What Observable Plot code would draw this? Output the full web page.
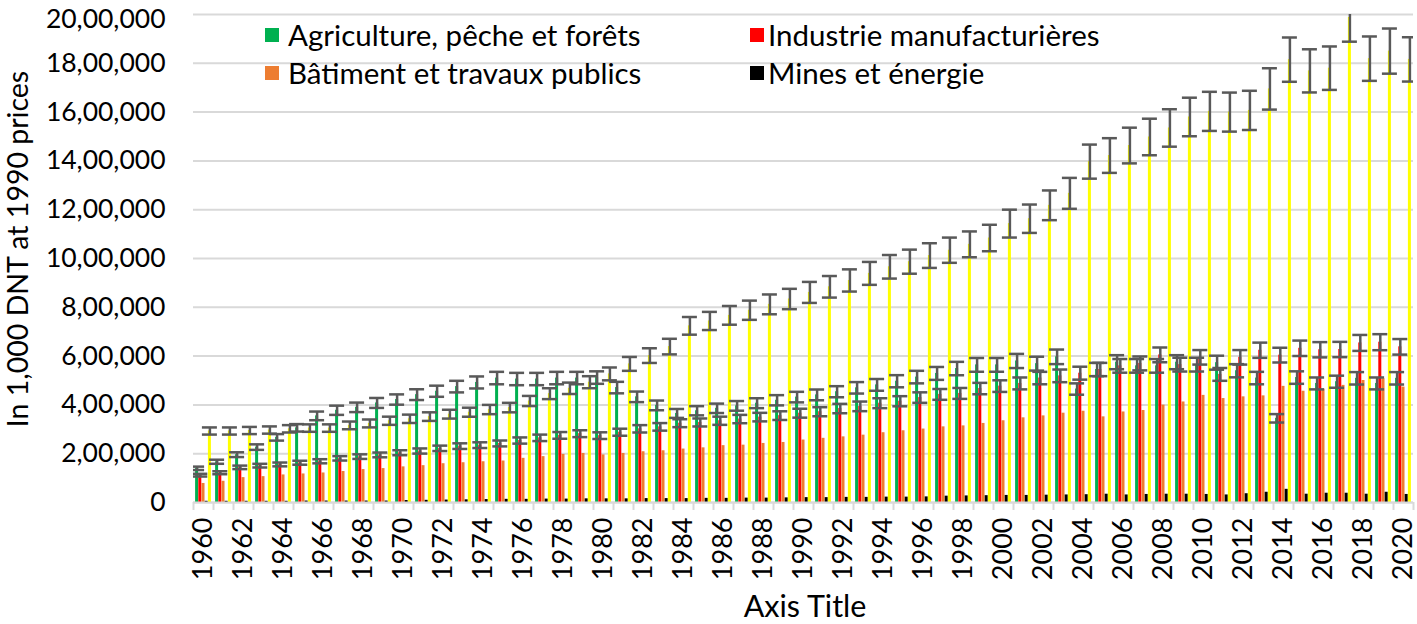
<!DOCTYPE html>
<html>
<head>
<meta charset="utf-8">
<script src="https://cdn.jsdelivr.net/npm/d3@7"></script>
<script src="https://cdn.jsdelivr.net/npm/@observablehq/plot@0.6"></script>
<style>
  body { margin: 0; background: #fff; }
  #wrap { position: relative; width: 1417px; height: 624px; font-family: Lato, "Open Sans", sans-serif; color: #000; }
  .lg { position: absolute; font-size: 29.5px; line-height: 32px; white-space: nowrap; }
  .sw { position: absolute; width: 14px; height: 14px; }
  .ytitle { position: absolute; left: 17px; top: 249px; transform: translate(-50%, -50%) rotate(-90deg); font-size: 28.5px; white-space: nowrap; }
  .xtitle { position: absolute; left: 805px; top: 605px; transform: translate(-50%, -50%); font-size: 30.5px; white-space: nowrap; }
</style>
</head>
<body>
<div id="wrap"></div>
<script>
// ---- categories ----
const years = [1960,1961,1962,1963,1964,1965,1966,1967,1968,1969,1970,1971,1972,1973,1974,1975,1976,1977,1978,1979,
  1980,1981,1982,1983,1984,1985,1986,1987,1988,1989,1990,1991,1992,1993,1994,1995,1996,1997,1998,1999,
  2000,2001,2002,2003,2004,2005,2006,2007,2008,2009,2010,2011,2012,2013,2014,2015,2016,2017,2018,2019,2020];
const xTickYears = [1960,1962,1964,1966,1968,1970,1972,1974,1976,1978,1980,1982,1984,1986,1988,1990,1992,1994,1996,1998,
  2000,2002,2004,2006,2008,2010,2012,2014,2016,2018,2020];

// ---- series values (in 1,000 DNT at 1990 prices) ----
const agriculture = [140000,167000,196000,227000,267000,306000,355000,378000,390000,408000,
  422000,442000,456000,475000,492000,510000,506000,506000,510000,510000,
  512000,471000,433000,398000,365000,376000,386000,396000,407000,419000,
  432000,441000,454000,470000,482000,497000,514000,529000,549000,564000,
  564000,580000,569000,597000,465000,545000,575000,560000,560000,575000,
  565000,573000,540000,510000,345000,512000,488000,495000,509000,488000,509000];
const industrie = [112000,122000,144000,151000,156000,163000,169000,181000,188000,195000,
  204000,211000,222000,231000,235000,242000,254000,265000,275000,282000,
  274000,288000,302000,310000,325000,328000,335000,342000,350000,356000,
  366000,372000,385000,394000,407000,415000,430000,443000,447000,467000,
  477000,488000,510000,519000,530000,545000,560000,570000,605000,565000,
  595000,525000,595000,624000,604000,632000,626000,627000,654000,657000,638000];
const batiment = [78000,87000,102000,106000,113000,117000,121000,127000,135000,139000,
  146000,151000,159000,163000,167000,170000,181000,188000,197000,201000,
  195000,201000,208000,212000,219000,224000,233000,235000,242000,246000,
  256000,263000,269000,276000,286000,294000,301000,310000,314000,324000,
  335000,347000,355000,366000,374000,351000,371000,377000,399000,412000,
  439000,426000,433000,437000,476000,456000,464000,480000,500000,507000,473000];
const mines = [5000,5000,5000,5000,5000,6000,6000,6000,6000,6000,
  8000,9000,10000,11000,12000,13000,13000,14000,14000,15000,
  15000,15000,16000,16000,16000,17000,17000,18000,18000,19000,
  20000,20000,21000,21000,22000,22000,23000,26000,27000,28000,
  29000,29000,30000,31000,32000,34000,31000,33000,34000,34000,
  33000,31000,36000,42000,54000,34000,38000,38000,34000,42000,33000];
const services = [293000,293000,295000,297000,302000,305000,305000,316000,324000,335000,
  343000,352000,362000,370000,381000,389000,416000,446000,468000,493000,
  527000,568000,602000,639000,724000,744000,767000,788000,812000,834000,
  861000,884000,910000,939000,966000,987000,1012000,1034000,1058000,1084000,
  1143000,1163000,1218000,1267000,1397000,1422000,1463000,1498000,1535000,1580000,
  1603000,1600000,1607000,1695000,1815000,1769000,1780000,1988000,1819000,1850000,1816000];

// ---- series metadata ----
const seriesNames = ["Agriculture, pêche et forêts", "Industrie manufacturières", "Bâtiment et travaux publics", "Mines et énergie", "Services"];
const seriesColors = ["#00B050", "#FF0000", "#ED7D31", "#000000", "#FFFF00"];
const seriesValues = [agriculture, industrie, batiment, mines, services];
const seriesHasError = [true, true, false, false, true];
const errorPercent = 0.05; // Excel percentage error bars
const legendItems = [0, 1, 2, 3];

// ---- y axis ----
const yTicks = [0,200000,400000,600000,800000,1000000,1200000,1400000,1600000,1800000,2000000];
const yTickLabels = ["0","2,00,000","4,00,000","6,00,000","8,00,000","10,00,000","12,00,000","14,00,000","16,00,000","18,00,000","20,00,000"];
const yTitle = "In 1,000 DNT at 1990 prices";
const xTitle = "Axis Title";

// ---- table ----
const rows = seriesValues.map((vals, s) => years.map((y, i) => ({year: y, series: seriesNames[s], value: vals[i]})));

// layout styles
const W = 1417, H = 624;
const mL = 193, mR = 4, mT = 14, mB = 122;
const barW = 3;
const pitch = 3.2;
const band = (W - mL - mR) / years.length;
const barInset = (band - barW) / 2;
const capInset = (band - 15) / 2;
const offsets = seriesNames.map((_, i) => (i - 2) * pitch);
const errColor = "#595959";
const yFmt = (d) => yTickLabels[yTicks.indexOf(d)];
const topTick = yTicks[yTicks.length - 1];

const marks = [
  Plot.gridY(yTicks, {stroke: "#d9d9d9", strokeOpacity: 1, strokeWidth: 2}),
  Plot.axisY(yTicks.slice(0, -1), {tickSize: 0, tickPadding: 28, tickFormat: yFmt, fontSize: 26.5, label: null}),
  Plot.axisY([topTick], {tickSize: 0, tickPadding: 28, tickFormat: yFmt, fontSize: 26.5, dy: 5, label: null}),
];
rows.forEach((r, i) => {
  marks.push(Plot.barY(r, {x: "year", y: "value", fill: seriesColors[i], insetLeft: barInset, insetRight: barInset, dx: offsets[i]}));
});
rows.forEach((r, i) => {
  if (!seriesHasError[i]) return;
  const lo = (d) => d.value * (1 - errorPercent);
  const hi = (d) => d.value * (1 + errorPercent);
  marks.push(Plot.ruleX(r, {x: "year", y1: lo, y2: hi, dx: offsets[i], stroke: errColor, strokeWidth: 2.5, clip: true}));
  marks.push(Plot.tickY(r, {x: "year", y: lo, dx: offsets[i], insetLeft: capInset, insetRight: capInset, stroke: errColor, strokeWidth: 2.5, clip: true}));
  marks.push(Plot.tickY(r, {x: "year", y: hi, dx: offsets[i], insetLeft: capInset, insetRight: capInset, stroke: errColor, strokeWidth: 2.5, clip: true}));
});
marks.push(Plot.ruleY([0], {stroke: "#d9d9d9", strokeWidth: 2}));
marks.push(Plot.axisX(years, {tickSize: 8, tickFormat: () => "", dx: -band / 2, stroke: "#d9d9d9", strokeWidth: 2, label: null}));
marks.push(Plot.axisX([years[years.length - 1]], {tickSize: 8, tickFormat: () => "", dx: band / 2, stroke: "#d9d9d9", strokeWidth: 2, label: null}));
marks.push(Plot.axisX(xTickYears, {tickSize: 0, tickRotate: -90, tickPadding: 15, fontSize: 27, tickFormat: (d) => String(d), label: null}));

const chart = Plot.plot({
  width: W,
  height: H,
  marginLeft: mL,
  marginRight: mR,
  marginTop: mT,
  marginBottom: mB,
  style: {fontFamily: "Lato, 'Open Sans', sans-serif", color: "#000", background: "#fff", overflow: "visible"},
  x: {type: "band", domain: years, padding: 0, axis: null},
  y: {domain: [0, 2000000], axis: null},
  marks
});

const wrap = document.getElementById("wrap");
wrap.appendChild(chart);

// legend (inside plot area, 2 x 2)
const legendPos = [[265, 288, 35], [750, 768, 35], [265, 288, 73], [750, 768, 73]];
legendItems.forEach((s, k) => {
  const [sx, tx, cy] = legendPos[k];
  const sw = document.createElement("div");
  sw.className = "sw";
  sw.style.left = sx + "px";
  sw.style.top = (cy - 7) + "px";
  sw.style.background = seriesColors[s];
  wrap.appendChild(sw);
  const t = document.createElement("div");
  t.className = "lg";
  t.style.left = tx + "px";
  t.style.top = (cy - 16) + "px";
  t.textContent = seriesNames[s];
  wrap.appendChild(t);
});
const yt = document.createElement("div"); yt.className = "ytitle"; yt.textContent = yTitle; wrap.appendChild(yt);
const xt = document.createElement("div"); xt.className = "xtitle"; xt.textContent = xTitle; wrap.appendChild(xt);
</script>
</body>
</html>
